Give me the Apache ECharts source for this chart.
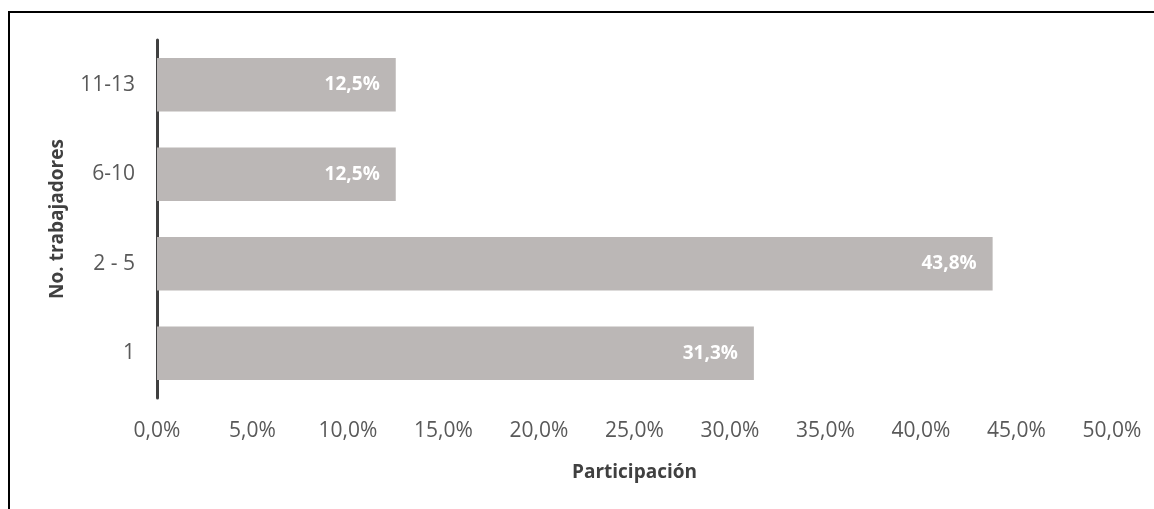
<!DOCTYPE html>
<html>
<head>
<meta charset="utf-8">
<script src="https://cdn.jsdelivr.net/npm/echarts@6/dist/echarts.min.js"></script>
<style>
  html, body { margin: 0; padding: 0; background: #fff; }
  #chart { position: absolute; left: 0; top: 0; width: 1154px; height: 509px; }
  #frame { position: absolute; left: 8px; top: 11px; width: 1146px; height: 498px;
           border-top: 2px solid #000; border-left: 2px solid #000; box-sizing: border-box; pointer-events: none; }
</style>
</head>
<body>
<div id="chart"></div>
<div id="frame"></div>
<script>
// data, bottom to top as in the picture
var categories = ['1', '2 - 5', '6-10', '11-13'];
var shares = [31.25, 43.75, 12.5, 12.5];
var shareLabels = ['31,3%', '43,8%', '12,5%', '12,5%'];

var chartDom = document.getElementById('chart');
var myChart = echarts.init(chartDom);

function pct(v) {
    return v.toFixed(1).replace('.', ',') + '%';
}

var option = {
    animation: false,
    textStyle: { fontFamily: 'Open Sans' },
    grid: { left: 157, right: 42, top: 40, bottom: 111 },
    xAxis: {
        type: 'value',
        min: 0,
        max: 50,
        interval: 5,
        name: 'Participación',
        nameLocation: 'middle',
        nameGap: 65,
        nameTextStyle: { fontSize: 19, fontWeight: 'bold', color: '#404040' },
        axisLine: { show: false },
        axisTick: { show: false },
        splitLine: { show: false },
        axisLabel: { margin: 23, fontSize: 21, color: '#595959', formatter: pct }
    },
    yAxis: {
        type: 'category',
        data: categories,
        name: 'No. trabajadores',
        nameLocation: 'middle',
        nameRotate: 90,
        nameGap: 90,
        nameTextStyle: { fontSize: 19, fontWeight: 'bold', color: '#404040' },
        axisLine: { show: true, lineStyle: { color: '#404040', width: 3 } },
        axisTick: { show: false },
        axisLabel: { margin: 22, fontSize: 21, color: '#595959' }
    },
    series: [{
        type: 'bar',
        data: shares,
        barCategoryGap: '40%',
        itemStyle: { color: '#bbb7b6' },
        label: {
            show: true,
            position: 'insideRight',
            distance: 16,
            color: '#ffffff',
            fontWeight: 'bold',
            fontSize: 19,
            formatter: function (p) { return shareLabels[p.dataIndex]; }
        }
    }]
};

myChart.setOption(option);
</script>
</body>
</html>
